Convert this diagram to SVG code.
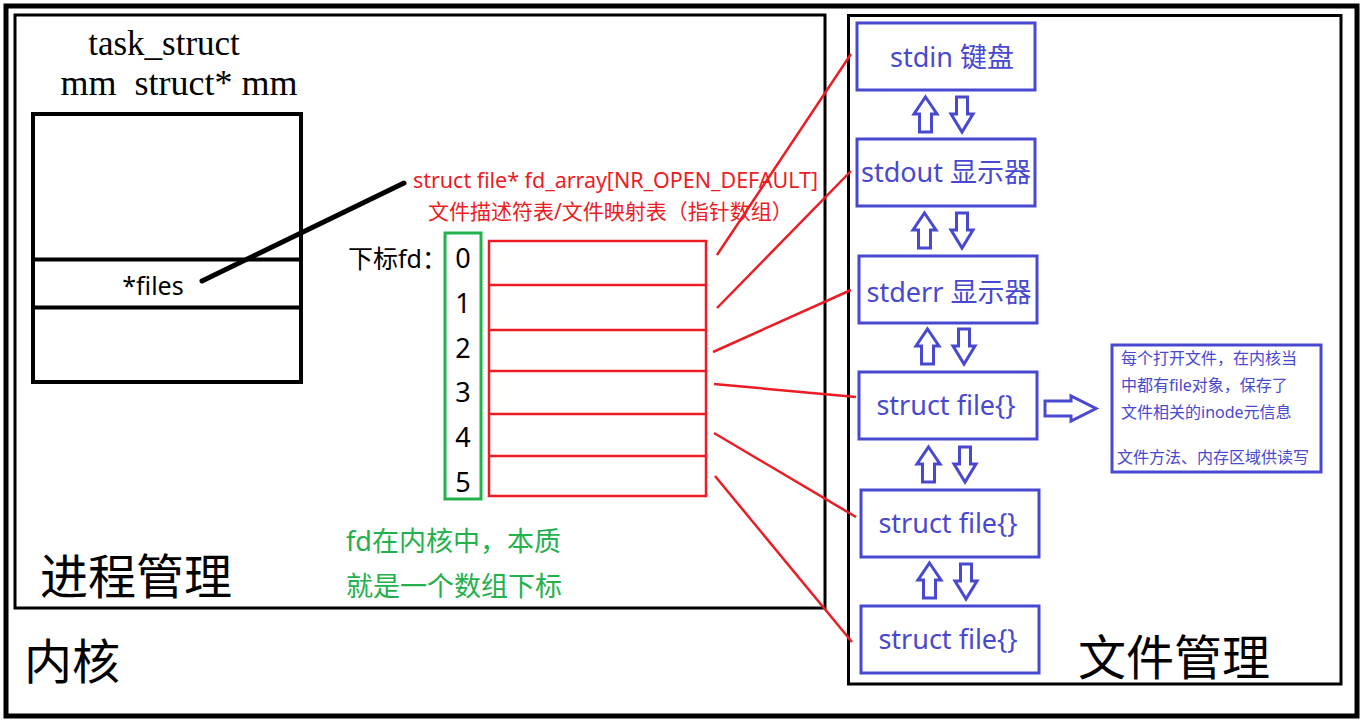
<svg xmlns="http://www.w3.org/2000/svg" width="1363" height="725" viewBox="0 0 1363 725">
<style>
.sans{font-family:"Noto Sans","Noto Sans CJK SC",sans-serif}
.serif{font-family:"Liberation Serif","Noto Serif CJK SC",serif}
.blk{fill:none;stroke:#000}
.red{stroke:#ED1C24;stroke-width:2.5;fill:none}
.box{fill:#fff;stroke:#4848D0;stroke-width:3}
.btxt{fill:#4848D0;font-size:27px;text-anchor:middle}
.itxt{fill:#4848D0;font-size:16px}
.arr{fill:#fff;stroke:#4848D0;stroke-width:3;stroke-linejoin:miter}
</style>
<defs>
<polygon id="up" class="arr" points="11.5,0 23,17 17.5,17 17.5,35 5.5,35 5.5,17 0,17"/>
<polygon id="down" class="arr" points="5.5,0 16.5,0 16.5,17 22,17 11,35 0,17 5.5,17"/>
</defs>
<rect width="1363" height="725" fill="#fff"/>
<!-- kernel frame -->
<g id="kernel">
<rect class="blk" x="6" y="6" width="1351" height="710" stroke-width="5"/>
<text class="sans" x="24" y="679" font-size="48">内核</text>
</g>
<!-- process management -->
<g id="process">
<rect class="blk" x="15" y="15" width="810" height="593" stroke-width="3"/>
<text class="sans" x="40" y="594" font-size="48">进程管理</text>
</g>
<g id="task_struct">
<text class="serif" x="164" y="55" font-size="35" text-anchor="middle">task_struct</text>
<text class="serif" x="179" y="95" font-size="36" text-anchor="middle" xml:space="preserve">mm  struct* mm</text>
<rect class="blk" x="33" y="114" width="268" height="268" stroke-width="4"/>
<line class="blk" x1="33" y1="259.5" x2="301" y2="259.5" stroke-width="4"/>
<line class="blk" x1="33" y1="307.5" x2="301" y2="307.5" stroke-width="4"/>
<text class="sans" x="153" y="295" font-size="25" text-anchor="middle">*files</text>
</g>
<g id="fd_array">
<text class="sans" x="413" y="188" font-size="21.5" fill="#ED1C24" textLength="405">struct file* fd_array[NR_OPEN_DEFAULT]</text>
<text class="sans" x="428" y="219" font-size="21" fill="#ED1C24">文件描述符表/文件映射表（指针数组）</text>
<text class="sans" x="348" y="268" font-size="25">下标fd：</text>
<rect x="445" y="233" width="36" height="266" fill="none" stroke="#22B14C" stroke-width="3"/>
<g class="sans" font-size="27" text-anchor="middle">
<text x="463" y="268">0</text>
<text x="463" y="313">1</text>
<text x="463" y="358">2</text>
<text x="463" y="402">3</text>
<text x="463" y="447">4</text>
<text x="463" y="492">5</text>
</g>
<rect class="red" x="489" y="241" width="217" height="255" stroke-width="3"/>
<g class="red" stroke-width="3">
<line x1="489" y1="285" x2="706" y2="285"/>
<line x1="489" y1="330" x2="706" y2="330"/>
<line x1="489" y1="371" x2="706" y2="371"/>
<line x1="489" y1="414" x2="706" y2="414"/>
<line x1="489" y1="456" x2="706" y2="456"/>
</g>
<text class="sans" x="346" y="551" font-size="27" fill="#22B14C">fd在内核中，本质</text>
<text class="sans" x="346" y="596" font-size="27" fill="#22B14C">就是一个数组下标</text>
</g>
<!-- file management -->
<g id="filemgmt">
<rect class="blk" x="848.5" y="15.5" width="492.5" height="668.5" stroke-width="3"/>
<text class="sans" x="1078" y="675" font-size="48">文件管理</text>
</g>
<g id="stdin"><rect class="box" x="857" y="23" width="178" height="67"/><text class="sans btxt" x="952" y="67">stdin 键盘</text></g>
<g id="stdout"><rect class="box" x="857" y="139" width="178" height="67"/><text class="sans btxt" x="946" y="182">stdout 显示器</text></g>
<g id="stderr"><rect class="box" x="859" y="256" width="178" height="67"/><text class="sans btxt" x="949" y="302">stderr 显示器</text></g>
<g id="file1"><rect class="box" x="859" y="372" width="178" height="67"/><text class="sans btxt" x="946" y="415">struct file{}</text></g>
<g id="file2"><rect class="box" x="861" y="490" width="178" height="67"/><text class="sans btxt" x="948" y="533">struct file{}</text></g>
<g id="file3"><rect class="box" x="861" y="606" width="178" height="67"/><text class="sans btxt" x="948" y="649">struct file{}</text></g>
<g id="info">
<rect class="box" x="1112" y="345" width="209" height="127"/>
<text class="sans itxt" x="1121" y="364">每个打开文件，在内核当</text>
<text class="sans itxt" x="1121" y="391">中都有file对象，保存了</text>
<text class="sans itxt" x="1121" y="418">文件相关的inode元信息</text>
<text class="sans itxt" x="1117" y="463">文件方法、内存区域供读写</text>
</g>
<!-- connectors -->
<g id="connectors">
<line x1="202" y1="281" x2="404" y2="183" stroke="#000" stroke-width="5" stroke-linecap="round"/>
<g class="red">
<line x1="717" y1="255" x2="851" y2="54"/>
<line x1="717" y1="308" x2="851" y2="171"/>
<line x1="713" y1="352" x2="851" y2="290"/>
<line x1="714" y1="384" x2="856" y2="397"/>
<line x1="714" y1="433" x2="856" y2="517"/>
<line x1="715" y1="476" x2="852" y2="642"/>
</g>
<use href="#up" x="914" y="97"/><use href="#down" x="951" y="97"/>
<use href="#up" x="913" y="213"/><use href="#down" x="951" y="213"/>
<use href="#up" x="916" y="329"/><use href="#down" x="953" y="329"/>
<use href="#up" x="917" y="447"/><use href="#down" x="954" y="447"/>
<use href="#up" x="918" y="563"/><use href="#down" x="955" y="564"/>
<polygon class="arr" points="1045,401 1071,401 1071,396 1096,408.5 1071,421 1071,416 1045,416"/>
</g>
</svg>
